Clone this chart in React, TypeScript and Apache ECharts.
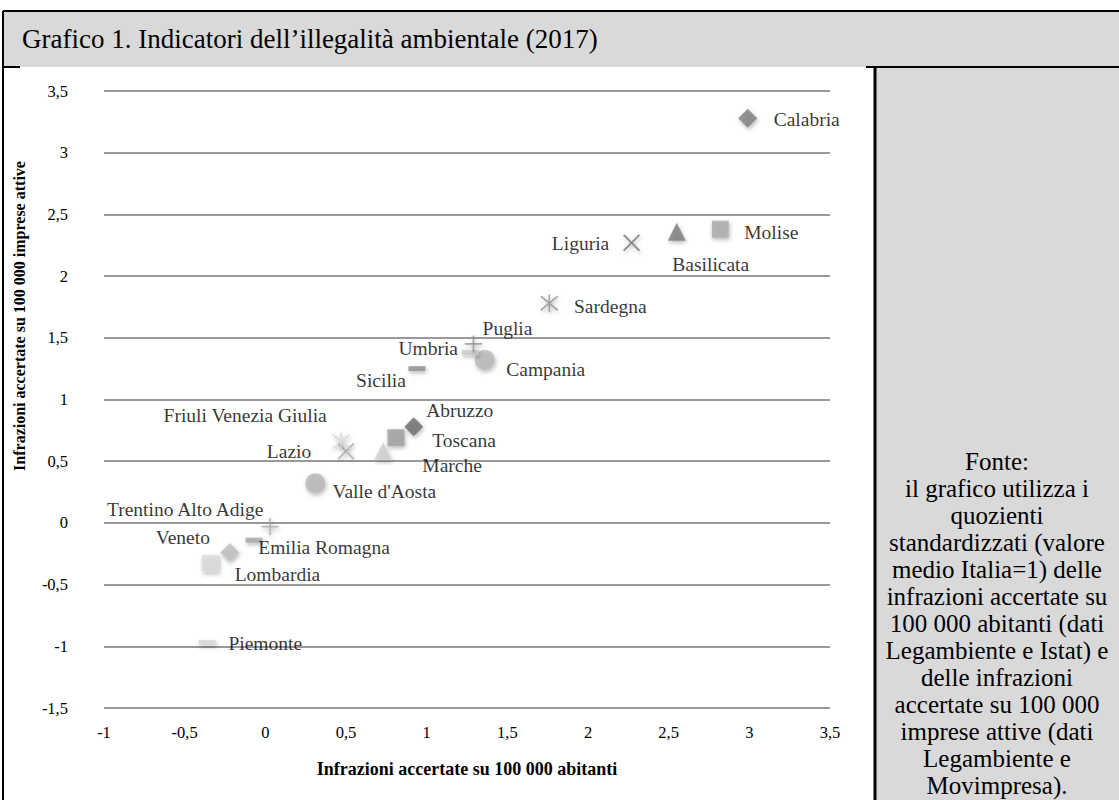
import React, { useEffect, useRef } from "react";
import * as echarts from "echarts";

const regions = [
  "Calabria", "Molise", "Basilicata", "Liguria", "Sardegna", "Campania", "Sicilia", "Umbria", "Puglia",
  "Abruzzo", "Toscana", "Marche", "Lazio", "Friuli Venezia Giulia", "Valle d'Aosta", "Emilia Romagna",
  "Piemonte", "Trentino Alto Adige", "Veneto", "Lombardia",
];
const perInhabitants = [2.99, 2.82, 2.55, 2.27, 1.76, 1.36, 0.94, 1.27, 1.29, 0.92, 0.81, 0.73, 0.5, 0.47, 0.31, -0.07, -0.36, 0.03, -0.22, -0.34];
const perFirms = [3.28, 2.38, 2.36, 2.27, 1.78, 1.32, 1.25, 1.38, 1.45, 0.78, 0.69, 0.58, 0.58, 0.66, 0.32, -0.14, -0.97, -0.03, -0.24, -0.33];

const titleText = "Grafico 1. Indicatori dell\u2019illegalità ambientale (2017)";
const xName = "Infrazioni accertate su 100 000 abitanti";
const yName = "Infrazioni accertate su 100 000 imprese attive";
const noteLines = [
  "Fonte:", "il grafico utilizza i", "quozienti", "standardizzati (valore", "medio Italia=1) delle",
  "infrazioni accertate su", "100 000 abitanti (dati", "Legambiente e Istat) e", "delle infrazioni",
  "accertate su 100 000", "imprese attive (dati", "Legambiente e", "Movimpresa).",
];

// marker styles (Excel default cycle, grayscale)
const X_PATH = "path://M0,1.5 L1.5,0 L10,8.5 L18.5,0 L20,1.5 L11.5,10 L20,18.5 L18.5,20 L10,11.5 L1.5,20 L0,18.5 L8.5,10 Z";
const STAR_PATH = X_PATH + " M9.2,-2 L10.8,-2 L10.8,22 L9.2,22 Z";
const PLUS_PATH = "path://M9,0 L11,0 L11,20 L9,20 Z M0,9 L20,9 L20,11 L0,11 Z";
const shapes: Record<string, { symbol: string; size: any }> = {
  diamond: { symbol: "diamond", size: 19 },
  square: { symbol: "rect", size: 17 },
  triangle: { symbol: "triangle", size: 18 },
  x: { symbol: X_PATH, size: 17 },
  star: { symbol: STAR_PATH, size: 18 },
  circle: { symbol: "circle", size: 20 },
  dash: { symbol: "rect", size: [17, 5] },
  plus: { symbol: PLUS_PATH, size: 17 },
};
const markerKinds = ["diamond", "square", "triangle", "x", "star", "circle", "dash", "dash", "plus", "diamond", "square", "triangle", "x", "star", "circle", "dash", "dash", "plus", "diamond", "square"];
const markerColors = ["#7d7d7d", "#a9a9a9", "#7a7a7a", "#6f6f6f", "#8e8e8e", "#b7b7b7", "#8c8c8c", "#c9c9c9", "#8f8f8f", "#6c6c6c", "#9c9c9c", "#d0d0d0", "#a9a9a9", "#d2d2d2", "#b5b5b5", "#a3a3a3", "#d6d6d6", "#a8a8a8", "#bdbdbd", "#d9d9d9"];
const labelOffsets = [
  [59, 1], [51, 3], [34, 33], [-51, 1], [61, 3], [61, 9], [-36, 12], [-42, -4], [34, -15],
  [46, -16], [68, 3], [69, 14], [-57, 0], [-96, -26], [69, 8], [70, 7], [58, 1], [-85, -17], [-47, -15], [67, 11],
];

const FONT = "'Liberation Serif', 'Times New Roman', serif";
const fmt = (v: number) => String(v).replace(".", ",");

export default function App() {
  const ref = useRef<HTMLDivElement>(null);
  useEffect(() => {
    const chart = echarts.init(ref.current!, null, { renderer: "svg" });
    const data = regions.map((name, i) => {
      const s = shapes[markerKinds[i]];
      return {
        name,
        value: [perInhabitants[i], perFirms[i]],
        symbol: s.symbol,
        symbolSize: s.size,
        itemStyle: {
          color: markerColors[i],
          shadowBlur: 4,
          shadowOffsetX: 1,
          shadowOffsetY: 2,
          shadowColor: "rgba(0,0,0,0.35)",
        },
        label: {
          show: true,
          position: "inside",
          offset: labelOffsets[i],
          formatter: name,
          color: "#000",
          fontFamily: FONT,
          fontSize: 19.5,
        },
      };
    });
    const line = (x1: number, y1: number, x2: number, y2: number, w: number) => ({
      type: "line",
      shape: { x1, y1, x2, y2 },
      style: { stroke: "#000", lineWidth: w },
      z: 10,
    });
    chart.setOption({
      animation: false,
      backgroundColor: "#fff",
      grid: { left: 104, right: 289, top: 91, bottom: 92, containLabel: false },
      xAxis: {
        type: "value",
        min: -1,
        max: 3.5,
        interval: 0.5,
        name: xName,
        nameLocation: "middle",
        nameGap: 52,
        nameTextStyle: { fontFamily: FONT, fontSize: 18, fontWeight: "bold", color: "#000" },
        axisLine: { show: false },
        axisTick: { show: false },
        splitLine: { show: false },
        axisLabel: { formatter: fmt, fontFamily: FONT, fontSize: 16.5, color: "#000", margin: 16 },
      },
      yAxis: {
        type: "value",
        min: -1.5,
        max: 3.5,
        interval: 0.5,
        axisLine: { show: false },
        axisTick: { show: false },
        splitLine: { show: true, lineStyle: { color: "#999", width: 2 } },
        axisLabel: { formatter: fmt, fontFamily: FONT, fontSize: 16.5, color: "#000", margin: 36 },
      },
      series: [
        {
          type: "scatter",
          data,
          markLine: {
            silent: true,
            symbol: "none",
            label: { show: false },
            lineStyle: { color: "#999", width: 2, type: "solid" },
            data: [[{ coord: [0, 3.7] }, { coord: [0, -1.5] }]],
          },
        },
      ],
      graphic: [
        { type: "rect", shape: { x: 3, y: 11, width: 1116, height: 56 }, style: { fill: "#d9d9d9" }, z: 1 },
        { type: "rect", shape: { x: 875, y: 67, width: 244, height: 733 }, style: { fill: "#d9d9d9" }, z: 1 },
        line(3, 11, 3, 800, 2),
        line(3, 11, 1119, 11, 2),
        line(3, 67, 20, 67, 2),
        line(866, 67, 1119, 67, 2),
        line(875, 67, 875, 800, 3),
        {
          type: "text",
          x: 22,
          y: 39,
          style: { text: titleText, fontFamily: FONT, fontSize: 27, fill: "#000", verticalAlign: "middle" },
          z: 11,
        },
        {
          type: "text",
          x: 19,
          y: 316,
          rotation: Math.PI / 2,
          style: { text: yName, fontFamily: FONT, fontSize: 16, fontWeight: "bold", fill: "#000", align: "center", verticalAlign: "middle" },
          z: 11,
        },
        {
          type: "text",
          x: 997,
          y: 448,
          style: {
            text: noteLines.join("\n"),
            fontFamily: FONT,
            fontSize: 25,
            lineHeight: 27,
            fill: "#000",
            align: "center",
            verticalAlign: "top",
          },
          z: 11,
        },
      ],
    });
    return () => chart.dispose();
  }, []);
  return <div ref={ref} style={{ position: "fixed", left: 0, top: 0, width: 1119, height: 800 }} />;
}
